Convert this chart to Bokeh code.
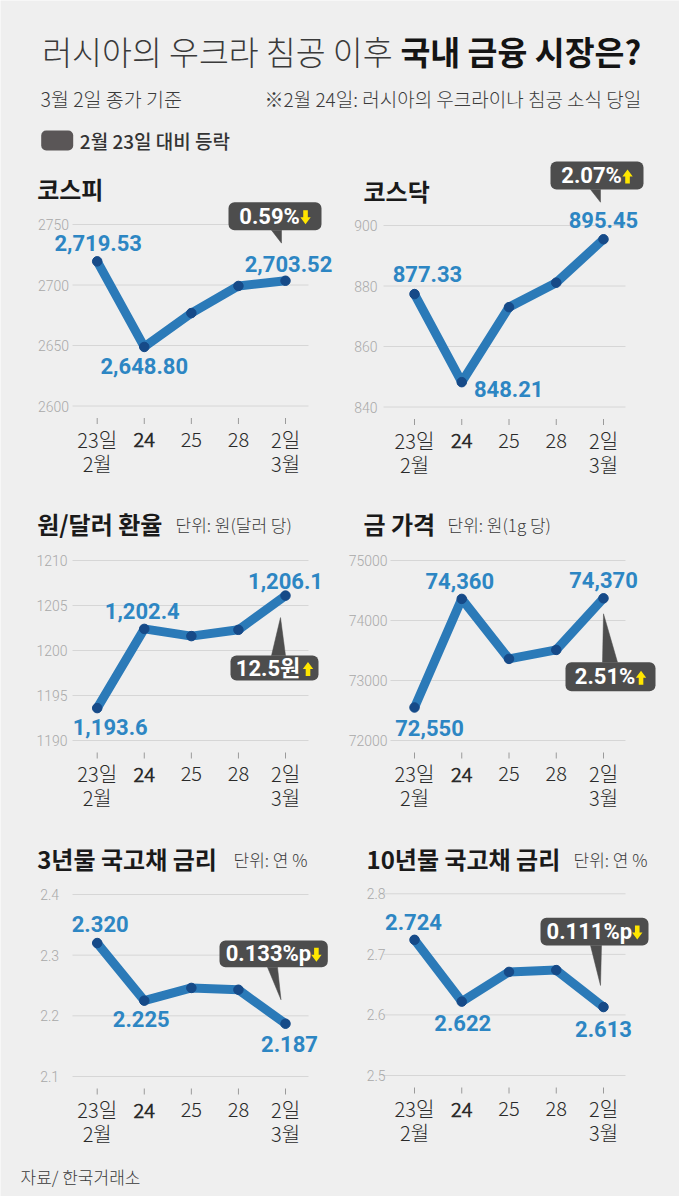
from bokeh.plotting import figure
from bokeh.models import (Range1d, Label, LabelSet, ColumnDataSource, BoxAnnotation)
from bokeh.embed import file_html
from bokeh.resources import INLINE
from bokeh.core.properties import value, field

# ---------------- data ----------------
dates = ["23일", "24", "25", "28", "2일"]
date_styles = ["normal", "bold", "normal", "normal", "normal"]
months = ["2월", "3월"]
month_pos = [0, 4]

kospi = [2719.53, 2648.80, 2676.8, 2699.2, 2703.52]
kosdaq = [877.33, 848.21, 873.0, 881.1, 895.45]
usdkrw = [1193.6, 1202.4, 1201.6, 1202.3, 1206.1]
gold = [72550, 74360, 73360, 73510, 74370]
ktb3 = [2.320, 2.225, 2.246, 2.243, 2.187]
ktb10 = [2.724, 2.622, 2.671, 2.674, 2.613]

kospi_ticks = [2600, 2650, 2700, 2750]
kosdaq_ticks = [840, 860, 880, 900]
usdkrw_ticks = [1190, 1195, 1200, 1205, 1210]
gold_ticks = [72000, 73000, 74000, 75000]
ktb3_ticks = [2.1, 2.2, 2.3, 2.4]
ktb10_ticks = [2.5, 2.6, 2.7, 2.8]

changes = ["0.59%", "2.07%", "12.5원", "2.51%", "0.133%p", "0.111%p"]
directions = ["down", "up", "up", "up", "down", "down"]

# ---------------- style ----------------
W, H = 679, 1196
BG = "#efefef"
LINE = "#2b7ab8"
DOT = "#164a88"
VAL = "#2d86c3"
BOX = "#4d4d4d"
YEL = "#ffe600"
KR = "Noto Sans CJK KR"
KR_LIGHT = "Noto Sans CJK KR Light, Noto Sans CJK KR"
KR_MED = "Noto Sans CJK KR Medium, Noto Sans CJK KR"
NUM = "Roboto, Noto Sans CJK KR"
TICKF = "Roboto Light, Roboto"
CALL_PX = 22
CHAR_EM = {".": 0.27, ",": 0.25, "%": 0.73, "p": 0.55, "원": 1.0}

p = figure(width=W, height=H, x_range=Range1d(0, W), y_range=Range1d(0, H),
           min_border=0, output_backend="svg", toolbar_location=None,
           x_axis_location=None, y_axis_location=None,
           background_fill_color=BG, border_fill_color=BG, outline_line_color=None)
p.grid.visible = False


def R(ry):
    # page layout y (top-down) -> default range value
    return H - ry


def label(x, y, text, size, font=KR, style="normal", color="#1a1a1a", align="left"):
    p.add_layout(Label(x=x, y=R(y), text=text, text_align=align, text_baseline="middle",
                       text_font=font, text_font_style=style, text_font_size=size,
                       text_color=color))


def est_width(text, px):
    return sum(CHAR_EM.get(c, 0.5615) for c in text) * px


def panel(n, frame_lr, grid_tb, xpts, ticks, tick_fmt, tick_right, vals, fmt, lab_idx,
          lab_off, title, title_pos, sub, sub_pos, change, direction, callout):
    xn, yn = f"x{n}", f"y{n}"
    fl, fr = frame_lr
    gt, gb = grid_tb
    x0, x4 = xpts
    ux = 4.0 / (x4 - x0)
    uy = (ticks[-1] - ticks[0]) / (gb - gt)
    p.extra_x_ranges[xn] = Range1d((0 - x0) * ux, (W - x0) * ux)
    p.extra_y_ranges[yn] = Range1d(ticks[-1] - (H - gt) * uy, ticks[-1] + gt * uy)
    rn = dict(x_range_name=xn, y_range_name=yn)

    def X(rx):
        return (rx - x0) * ux

    def Y(ry):
        return ticks[-1] - (ry - gt) * uy

    nt = len(ticks)
    # grid lines + y tick labels
    p.segment(x0=[X(fl)] * nt, x1=[X(fr)] * nt, y0=ticks, y1=ticks,
              line_color="#d6d6d6", line_width=1, **rn)
    p.text(x=[X(tick_right)] * nt, y=ticks, text=[tick_fmt(t) for t in ticks],
           text_align="right", text_baseline="middle", text_font=value(TICKF),
           text_font_size="14px", text_color="#a9a9a9", **rn)
    # x ticks + category labels
    idx = list(range(len(vals)))
    p.segment(x0=idx, x1=idx, y0=[Y(gb + 12)] * 5, y1=[Y(gb + 18)] * 5,
              line_color="#9a9a9a", line_width=1, **rn)
    p.text(x=idx, y=[Y(gb + 33)] * 5, text=dates, text_font_style=date_styles,
           text_align="center", text_baseline="middle", text_font=value(KR_LIGHT),
           text_font_size="20px", text_color="#2a2a2a", **rn)
    p.text(x=month_pos, y=[Y(gb + 57)] * 2, text=months,
           text_align="center", text_baseline="middle", text_font=value(KR_LIGHT),
           text_font_size="20px", text_color="#2a2a2a", **rn)

    # series
    p.line(idx, vals, line_width=9, color=LINE, line_cap="round", line_join="round", **rn)
    p.scatter(idx, vals, size=9.5, color=DOT, **rn)

    src = ColumnDataSource(dict(
        x=list(lab_idx), y=[vals[i] for i in lab_idx],
        text=[fmt(vals[i]) for i in lab_idx],
        xo=[o[0] for o in lab_off], yo=[-o[1] for o in lab_off]))
    p.add_layout(LabelSet(x="x", y="y", text="text", source=src, x_offset=field("xo"),
                          y_offset=field("yo"), text_align="center", text_baseline="middle",
                          text_font=value(NUM), text_font_style="bold",
                          text_font_size="22px", text_color=VAL, **rn))

    # titles
    label(title_pos[0], title_pos[1], title, "24px", KR, "bold", "#1a1a1a")
    if sub:
        label(sub_pos[0], sub_pos[1], sub, "17px", KR_LIGHT, "normal", "#3a3a3a")

    # callout anchored on the last point
    px = x4
    py = gt + (ticks[-1] - vals[4]) / uy
    bl, br, bt, bb, tip, base = callout
    p.add_layout(BoxAnnotation(left=X(px + bl), right=X(px + br), top=Y(py + bt),
                               bottom=Y(py + bb), fill_color=BOX, fill_alpha=1,
                               line_color=None, border_radius=6, **rn))
    base_y = py + (bb if bt < 0 else bt)
    p.patch(x=[X(px + base[0]), X(px + base[1]), X(px + tip[0])],
            y=[Y(base_y), Y(base_y), Y(py + tip[1])],
            fill_color=BOX, line_color=BOX, line_width=0.5, **rn)
    cy = py + (bt + bb) / 2
    tw = est_width(change, CALL_PX)
    gw = tw + 2 + 10.4
    gl = px + (bl + br) / 2 - gw / 2
    p.add_layout(Label(x=X(gl), y=Y(cy), text=change, text_align="left",
                       text_baseline="middle", text_font=NUM, text_font_style="bold",
                       text_font_size=f"{CALL_PX}px", text_color="white", **rn))
    # yellow block arrow (drawn above the callout box)
    ax, ay = gl + tw + 2 + 5.2, cy + 1
    s = 1 if direction == "down" else -1
    axs = [ax - 2.3, ax + 2.3, ax + 2.3, ax + 5.2, ax, ax - 5.2, ax - 2.3]
    ays = [ay - 7 * s, ay - 7 * s, ay, ay, ay + 7 * s, ay, ay]
    p.patch(x=[X(v) for v in axs], y=[Y(v) for v in ays], fill_color=YEL,
            line_color=None, level="overlay", **rn)


f2 = lambda v: f"{v:,.2f}"
f1 = lambda v: f"{v:,.1f}"
f0 = lambda v: f"{v:,.0f}"
f3 = lambda v: f"{v:.3f}"
ti = lambda t: f"{t:d}"
t1 = lambda t: f"{t:.1f}"

LEFT = dict(frame_lr=(72, 308), xpts=(96.7, 285))
RIGHT = dict(frame_lr=(383, 625), xpts=(414, 603))

panel(1, grid_tb=(224, 405.5), ticks=kospi_ticks, tick_fmt=ti, tick_right=68.5, vals=kospi,
      fmt=f2, lab_idx=[0, 1, 4], lab_off=[(1, -18), (0, 19), (3, -17)],
      title="코스피", title_pos=(36.7, 188), sub=None, sub_pos=None,
      change=changes[0], direction=directions[0],
      callout=(-57, 36, -78.6, -50.6, (-4, -37.6), (-14, -4)), **LEFT)
panel(2, grid_tb=(225, 406.5), ticks=kosdaq_ticks, tick_fmt=ti, tick_right=377, vals=kosdaq,
      fmt=f2, lab_idx=[0, 1, 4], lab_off=[(13, -20), (47, 6.5), (0, -19)],
      title="코스닥", title_pos=(363, 190), sub=None, sub_pos=None,
      change=changes[1], direction=directions[1],
      callout=(-53, 40, -77.8, -49.8, (-3, -37), (-13, -3)), **RIGHT)
panel(3, grid_tb=(560, 740), ticks=usdkrw_ticks, tick_fmt=ti, tick_right=67, vals=usdkrw,
      fmt=f1, lab_idx=[0, 1, 4], lab_off=[(13, 19), (-2, -18), (0, -15)],
      title="원/달러 환율", title_pos=(36.7, 523), sub="단위: 원(달러 당)",
      sub_pos=(175, 524), change=changes[2], direction=directions[2],
      callout=(-55, 33, 60, 85, (-5, 22), (-14, 0)), **LEFT)
panel(4, frame_lr=(390, 625), xpts=(414, 603), grid_tb=(560, 740), ticks=gold_ticks,
      tick_fmt=ti, tick_right=387, vals=gold,
      fmt=f0, lab_idx=[0, 1, 4], lab_off=[(15, 20), (-2, -18), (0, -18)],
      title="금 가격", title_pos=(363, 523), sub="단위: 원(1g 당)",
      sub_pos=(447, 524), change=changes[3], direction=directions[3],
      callout=(-38, 52, 64, 93, (0, 15.5), (-1, 14)))
panel(5, grid_tb=(894, 1076), ticks=ktb3_ticks, tick_fmt=t1, tick_right=58.5, vals=ktb3,
      fmt=f3, lab_idx=[0, 1, 4], lab_off=[(3, -19), (-3, 18), (4, 20)],
      title="3년물 국고채 금리", title_pos=(36.7, 858), sub="단위: 연 %",
      sub_pos=(233, 859), change=changes[4], direction=directions[4],
      callout=(-66, 42.3, -83.2, -56.5, (-4.5, -24), (-18, -8)), **LEFT)
panel(6, grid_tb=(893.3, 1075), ticks=ktb10_ticks, tick_fmt=t1, tick_right=385, vals=ktb10,
      fmt=f3, lab_idx=[0, 1, 4], lab_off=[(-1, -18), (1, 21), (0, 22)],
      title="10년물 국고채 금리", title_pos=(366, 858), sub="단위: 연 %",
      sub_pos=(573, 859), change=changes[5], direction=directions[5],
      callout=(-63, 45, -89.3, -61.6, (-3, -21.6), (-13, -2)), **RIGHT)

# ---------------- header & footer ----------------
label(41.7, 50, "러시아의 우크라 침공 이후", "32.5px", KR_LIGHT, "normal", "#3a3a3a")
label(640.7, 50, "국내 금융 시장은?", "32.5px", KR, "bold", "#141414", align="right")
label(40, 98, "3월 2일 종가 기준", "19.5px", KR_LIGHT, "normal", "#3a3a3a")
label(640.7, 98, "※2월 24일: 러시아의 우크라이나 침공 소식 당일", "19px", KR_LIGHT,
      "normal", "#3a3a3a", align="right")
p.add_layout(BoxAnnotation(left=40.7, right=72.7, top=R(130), bottom=R(150),
                           fill_color="#5a5657", fill_alpha=1, line_color=None,
                           border_radius=5))
label(79.3, 140, "2월 23일 대비 등락", "19px", KR_MED, "normal", "#333333")
label(20, 1176, "자료/ 한국거래소", "17px", KR_LIGHT, "normal", "#3a3a3a")

open("out.html", "w").write(file_html(p, INLINE))
